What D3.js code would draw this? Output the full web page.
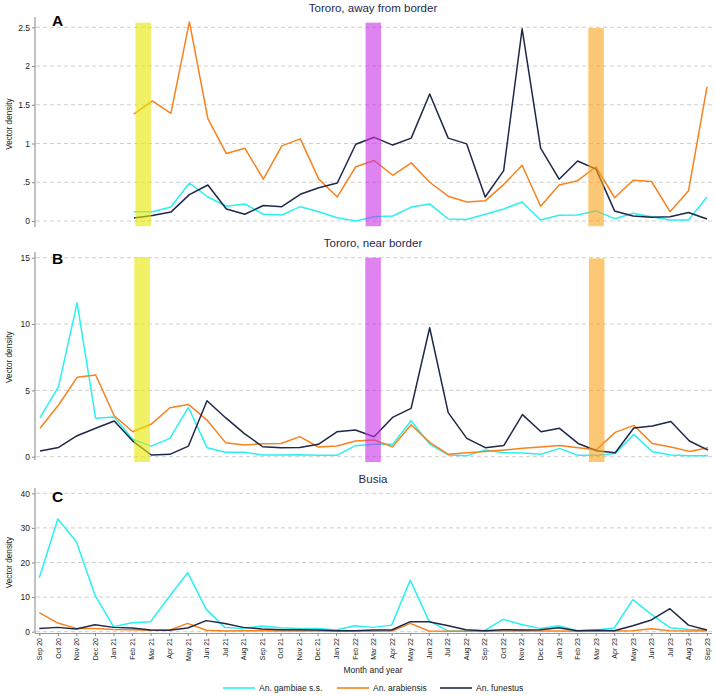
<!DOCTYPE html>
<html>
<head>
<meta charset="utf-8">
<script src="https://cdn.jsdelivr.net/npm/d3@7"></script>
<style>
  html, body { margin: 0; padding: 0; background: #fff; }
  svg { display: block; font-family: "Liberation Sans", Arial, sans-serif; }
</style>
</head>
<body>
<svg id="chart" width="716" height="696"></svg>
<script>
// ---------- DATA ----------
const months = ["Sep 20","Oct 20","Nov 20","Dec 20","Jan 21","Feb 21","Mar 21","Apr 21","May 21","Jun 21","Jul 21","Aug 21",
  "Sep 21","Oct 21","Nov 21","Dec 21","Jan 22","Feb 22","Mar 22","Apr 22","May 22","Jun 22","Jul 22","Aug 22",
  "Sep 22","Oct 22","Nov 22","Dec 22","Jan 23","Feb 23","Mar 23","Apr 23","May 23","Jun 23","Jul 23","Aug 23","Sep 23"];

const speciesNames = ["An. gambiae s.s.", "An. arabiensis", "An. funestus"];

// Panel A: Tororo, away from border (data from Feb 21)
const awayGambiae = [null,null,null,null,null,
  0.12,0.12,0.18,0.49,0.31,0.19,0.22,0.087,0.078,0.185,0.12,0.043,0.0,0.056,0.065,0.18,
  0.22,0.026,0.02,0.087,0.155,0.245,0.013,0.073,0.078,0.13,0.03,0.1,0.056,0.013,0.013,0.31];
const awayArabiensis = [null,null,null,null,null,
  1.38,1.55,1.39,2.57,1.32,0.87,0.94,0.54,0.97,1.06,0.54,0.31,0.70,0.78,0.59,0.75,
  0.50,0.32,0.245,0.26,0.47,0.72,0.19,0.465,0.52,0.70,0.30,0.525,0.51,0.12,0.39,1.73];
const awayFunestus = [null,null,null,null,null,
  0.04,0.07,0.115,0.34,0.465,0.155,0.087,0.2,0.185,0.345,0.43,0.49,0.99,1.08,0.98,1.07,
  1.64,1.07,0.995,0.31,0.65,2.48,0.94,0.54,0.775,0.67,0.13,0.065,0.048,0.056,0.11,0.026];

// Panel B: Tororo, near border
const nearGambiae = [2.94,5.28,11.6,2.89,3.0,1.3,0.8,1.38,3.72,0.68,0.33,0.33,0.13,0.13,0.15,0.1,0.1,0.83,
  0.93,0.93,2.71,0.95,0.13,0.08,0.5,0.3,0.28,0.18,0.63,0.1,0.1,0.25,1.68,0.38,0.13,0.08,0.08];
const nearArabiensis = [2.14,3.9,5.98,6.16,3.09,1.88,2.46,3.69,3.94,2.76,1.06,0.88,0.98,1.0,1.51,0.73,0.8,1.18,
  1.26,0.75,2.41,1.08,0.18,0.3,0.4,0.5,0.63,0.73,0.85,0.68,0.53,1.83,2.36,1.0,0.73,0.4,0.68];
const nearFunestus = [0.43,0.7,1.58,2.14,2.69,1.18,0.13,0.18,0.8,4.22,2.94,1.76,0.75,0.68,0.7,0.93,1.88,2.01,
  1.5,2.96,3.64,9.72,3.32,1.38,0.68,0.85,3.17,1.88,2.14,1.0,0.45,0.3,2.16,2.31,2.66,1.18,0.5];

// Panel C: Busia
const busiaGambiae = [15.6,32.6,26.0,10.6,1.45,2.6,2.9,10.1,17.05,6.45,1.25,0.96,1.64,1.16,0.96,0.96,0.5,1.73,
  1.25,1.9,14.9,3.2,0.3,0.2,0.3,3.56,2.1,0.96,1.73,0.3,0.5,1.06,9.25,5.0,1.16,0.67,0.5];
const busiaArabiensis = [5.5,2.5,0.96,0.96,0.67,0.58,0.4,0.4,2.4,0.4,0.2,0.3,0.3,0.2,0.3,0.2,0.2,0.2,
  0.1,0.2,2.4,0.2,0.1,0.1,0.1,0.2,0.3,0.2,0.2,0.1,0.1,0.2,0.3,0.87,0.3,0.2,0.3];
const busiaFunestus = [0.96,1.25,0.77,2.0,1.25,1.06,0.5,0.4,1.06,3.2,2.4,1.25,0.77,0.58,0.58,0.5,0.3,0.3,
  0.5,0.5,2.9,2.9,1.8,0.58,0.3,0.58,0.5,0.58,1.16,0.3,0.4,0.3,1.73,3.4,6.65,1.9,0.5];

// Intervention periods (month index of centre)
const interventionCentres = [5.5, 17.95, 30];
const interventionColors = ["#e8e800", "#c930e8", "#fca31a"];

// Y ticks
const awayTicks = [0, 0.5, 1, 1.5, 2, 2.5];
const awayTickLabels = ["0", ".5", "1", "1.5", "2", "2.5"];
const nearTicks = [0, 5, 10, 15];
const busiaTicks = [0, 10, 20, 30, 40];

// ---------- STYLE / LAYOUT ----------
const seriesColors = ["#2cf0f0", "#f7821e", "#1e2848"];
const titleColor = "#1e2850";
const svg = d3.select("#chart");

const panels = [
  { letter: "A", title: "Tororo, away from border", series: [awayGambiae, awayArabiensis, awayFunestus],
    ticks: awayTicks, labels: awayTickLabels, yMax: 2.5, xr: [41.5, 707], yr: [221, 27.3],
    axisY: [17, 227], titleY: 12, letterY: 26, bars: true, barTops: [2.56, 2.56, 2.49] },
  { letter: "B", title: "Tororo, near border", series: [nearGambiae, nearArabiensis, nearFunestus],
    ticks: nearTicks, labels: nearTicks.map(String), yMax: 15, xr: [40, 708], yr: [456.7, 257.7],
    axisY: [252, 460], titleY: 247, letterY: 264, bars: true, barTops: [15.05, 15.0, 14.95] },
  { letter: "C", title: "Busia", series: [busiaGambiae, busiaArabiensis, busiaFunestus],
    ticks: busiaTicks, labels: busiaTicks.map(String), yMax: 40, xr: [39.3, 707], yr: [631.7, 493.3],
    axisY: [488, 633], titleY: 483, letterY: 502, bars: false }
];

const axisX = 35, gridRight = 712;

panels.forEach((p, pi) => {
  const x = d3.scaleLinear().domain([0, months.length - 1]).range(p.xr);
  const y = d3.scaleLinear().domain([0, p.yMax]).range(p.yr);
  const g = svg.append("g");

  // gridlines
  g.selectAll("line.grid").data(p.ticks).join("line")
    .attr("x1", axisX + 1).attr("x2", gridRight)
    .attr("y1", d => y(d)).attr("y2", d => y(d))
    .attr("stroke", "#cfcfcf").attr("stroke-width", 1).attr("stroke-dasharray", "4,3");

  // y axis
  const yAxis = d3.axisLeft(y).tickValues(p.ticks)
    .tickFormat((d, i) => p.labels[i]).tickSize(3).tickPadding(2);
  const ya = g.append("g").attr("transform", `translate(${axisX},0)`).call(yAxis);
  ya.select(".domain").remove();
  ya.selectAll(".tick line").attr("stroke", "#888");
  ya.selectAll(".tick text").attr("font-size", "8.5px").attr("fill", "#222")
    .attr("font-family", "Liberation Sans, Arial, sans-serif");
  g.append("line").attr("x1", axisX).attr("x2", axisX)
    .attr("y1", p.axisY[0]).attr("y2", p.axisY[1])
    .attr("stroke", "#999").attr("stroke-width", 1.2);

  // y label
  const yc = (p.yr[0] + p.yr[1]) / 2;
  g.append("text").attr("transform", `translate(12,${yc}) rotate(-90)`)
    .attr("text-anchor", "middle").attr("font-size", "8.2px").attr("fill", "#222")
    .text("Vector density");

  // lines
  const line = d3.line().defined(d => d != null)
    .x((d, i) => x(i)).y(d => y(d));
  p.series.forEach((s, si) => {
    g.append("path").datum(s).attr("d", line)
      .attr("fill", "none").attr("stroke", seriesColors[si])
      .attr("stroke-width", 1.5).attr("stroke-linejoin", "round");
  });

  // intervention bars (translucent, on top)
  if (p.bars) {
    const halfW = 0.42;
    g.selectAll("rect.bar").data(interventionCentres).join("rect")
      .attr("x", d => x(d - halfW))
      .attr("width", d => x(d + halfW) - x(d - halfW))
      .attr("y", (d, i) => y(p.barTops[i]))
      .attr("height", (d, i) => y(-p.yMax * 0.027) - y(p.barTops[i]))
      .attr("fill", (d, i) => interventionColors[i]).attr("opacity", 0.6);
  }

  // title and letter
  g.append("text").attr("x", (axisX + gridRight) / 2 - 0.5).attr("y", p.titleY)
    .attr("text-anchor", "middle").attr("font-size", "11.5px").attr("fill", titleColor)
    .text(p.title);
  g.append("text").attr("x", 52).attr("y", p.letterY)
    .attr("font-size", "15.5px").attr("font-weight", "bold").attr("fill", "#000")
    .text(p.letter);

  // x axis only on last panel
  if (pi === panels.length - 1) {
    const xAxis = d3.axisBottom(x).tickValues(d3.range(months.length))
      .tickFormat(i => months[i]).tickSize(3);
    const xa = g.append("g").attr("transform", "translate(0,633)").call(xAxis);
    xa.select(".domain").attr("stroke", "#999").attr("d", `M${axisX},0.5H${gridRight}`);
    xa.selectAll(".tick line").attr("stroke", "#888");
    xa.selectAll(".tick text")
      .attr("font-size", "7px").attr("fill", "#222")
      .attr("font-family", "Liberation Sans, Arial, sans-serif")
      .attr("text-anchor", "end")
      .attr("transform", "rotate(-90)")
      .attr("x", -5).attr("y", 0).attr("dy", "0.35em");
  }
});

// x axis title
svg.append("text").attr("x", 373).attr("y", 673).attr("text-anchor", "middle")
  .attr("font-size", "8.5px").attr("fill", "#222").text("Month and year");

// legend
const legendX = [223, 337, 440];
const lg = svg.append("g");
speciesNames.forEach((name, i) => {
  lg.append("line").attr("x1", legendX[i]).attr("x2", legendX[i] + 32)
    .attr("y1", 688).attr("y2", 688)
    .attr("stroke", seriesColors[i]).attr("stroke-width", 1.6);
  lg.append("text").attr("x", legendX[i] + 36).attr("y", 691)
    .attr("font-size", "8.5px").attr("fill", "#222").text(name);
});
</script>
</body>
</html>
